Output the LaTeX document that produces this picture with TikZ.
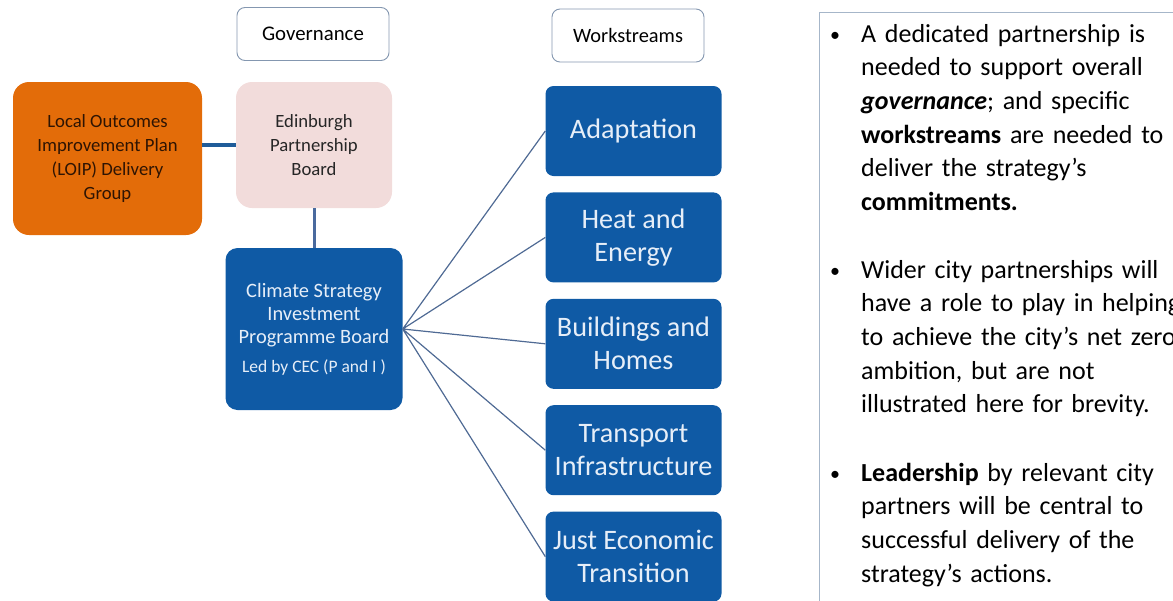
\documentclass[tikz,border=0pt]{standalone}
\usepackage{fontspec}
\setmainfont{Carlito}
\usetikzlibrary{positioning}
\definecolor{loiporange}{HTML}{E36C09}
\definecolor{loiptext}{HTML}{2E1403}
\definecolor{epbpink}{HTML}{F2DCDB}
\definecolor{epbtext}{HTML}{262626}
\definecolor{boardblue}{HTML}{0F5AA5}
\definecolor{boxtext}{HTML}{E6EEF8}
\definecolor{linkblue}{HTML}{1F5C99}
\definecolor{stemblue}{HTML}{4A6A9E}
\definecolor{fanblue}{HTML}{4F6A94}
\definecolor{framegrey}{HTML}{8497B0}
\definecolor{panelgrey}{HTML}{A6B6C9}

\begin{document}
\begin{tikzpicture}[x=1pt,y=-1pt]
	\tikzstyle{header} = [draw=framegrey,line width=0.9pt,rounded corners=8pt,minimum width=152pt,minimum height=53pt,font=\fontsize{20.8}{25}\selectfont];
	\tikzstyle{group} = [rounded corners=16pt,inner sep=2pt,align=center,font=\fontsize{18.7}{24}\selectfont];
	\tikzstyle{stream} = [fill=boardblue,text=boxtext,rounded corners=8pt,minimum width=176pt,minimum height=90pt,inner sep=1pt,align=center,font=\fontsize{28.2}{33}\selectfont];
	\tikzstyle{fan} = [draw=fanblue,line width=1.2pt];
	\tikzstyle{point} = [anchor=base west,inner sep=0,text width=330pt,align=left,font=\fontsize{26}{33.7}\selectfont];
	\tikzstyle{dot} = [anchor=base west,inner sep=0,font=\fontsize{20}{24}\selectfont];
	\useasboundingbox (0,0) rectangle (1173,600);
	% governance side
	\node at (313,34) (gov) [header] {Governance};
	\node at (107.5,158.5) (loip) [group,fill=loiporange,text=loiptext,minimum width=189pt,minimum height=153pt] {Local Outcomes\\Improvement Plan\\(LOIP) Delivery\\Group};
	\node at (314,145) (epb) [group,fill=epbpink,text=epbtext,minimum width=156pt,minimum height=126pt] {Edinburgh\\Partnership\\Board};
	\node at (314,329) (csipb) [group,fill=boardblue,text=boxtext,rounded corners=12pt,minimum width=177pt,minimum height=162pt,font=\fontsize{20.4}{23}\selectfont] {Climate Strategy\\Investment\\Programme Board\\[6pt]{\fontsize{17.5}{21}\selectfont Led by CEC (P and I )}};
	\draw[linkblue,line width=4pt] (epb.west -| loip.east) -- (epb.west);
	\draw[stemblue,line width=3pt] (epb.south) -- (csipb.north);
	% workstreams
	\node at (628,35.5) (ws) [header,font=\fontsize{20.4}{25}\selectfont] {Workstreams};
	\node at (633.5,131) (adapt) [stream] {Adaptation};
	\node (heat) [below=16pt of adapt,stream] {Heat and\\Energy};
	\node (homes) [below=16pt of heat,stream] {Buildings and\\Homes};
	\node (transport) [below=16pt of homes,stream] {Transport\\Infrastructure};
	\node (just) [below=16pt of transport,stream] {Just Economic\\Transition};
	\draw[fan] (csipb.east) -- (adapt.west) (csipb.east) -- (heat.west) (csipb.east) -- (homes.west) (csipb.east) -- (transport.west) (csipb.east) -- (just.west);
	% text panel
	\draw[panelgrey,line width=1pt] (1180,12) -- (819,12) -- (819,610);
	\node at (830,41) (dot1) [dot] {\textbullet};
	\node at (861,42) (pt1) [point] {A dedicated partnership is\\needed to support overall\\\textbf{\textit{governance}}; and specific\\\textbf{workstreams} are needed to\\deliver the strategy’s\\\textbf{commitments.}};
	\node at (830,277) (dot2) [dot] {\textbullet};
	\node at (861,278) (pt2) [point] {Wider city partnerships will\\have a role to play in helping\\to achieve the city’s net zero\\ambition, but are not\\illustrated here for brevity.};
	\node at (830,480) (dot3) [dot] {\textbullet};
	\node at (861,481) (pt3) [point] {\textbf{Leadership} by relevant city\\partners will be central to\\successful delivery of the\\strategy’s actions.};
\end{tikzpicture}
\end{document}
